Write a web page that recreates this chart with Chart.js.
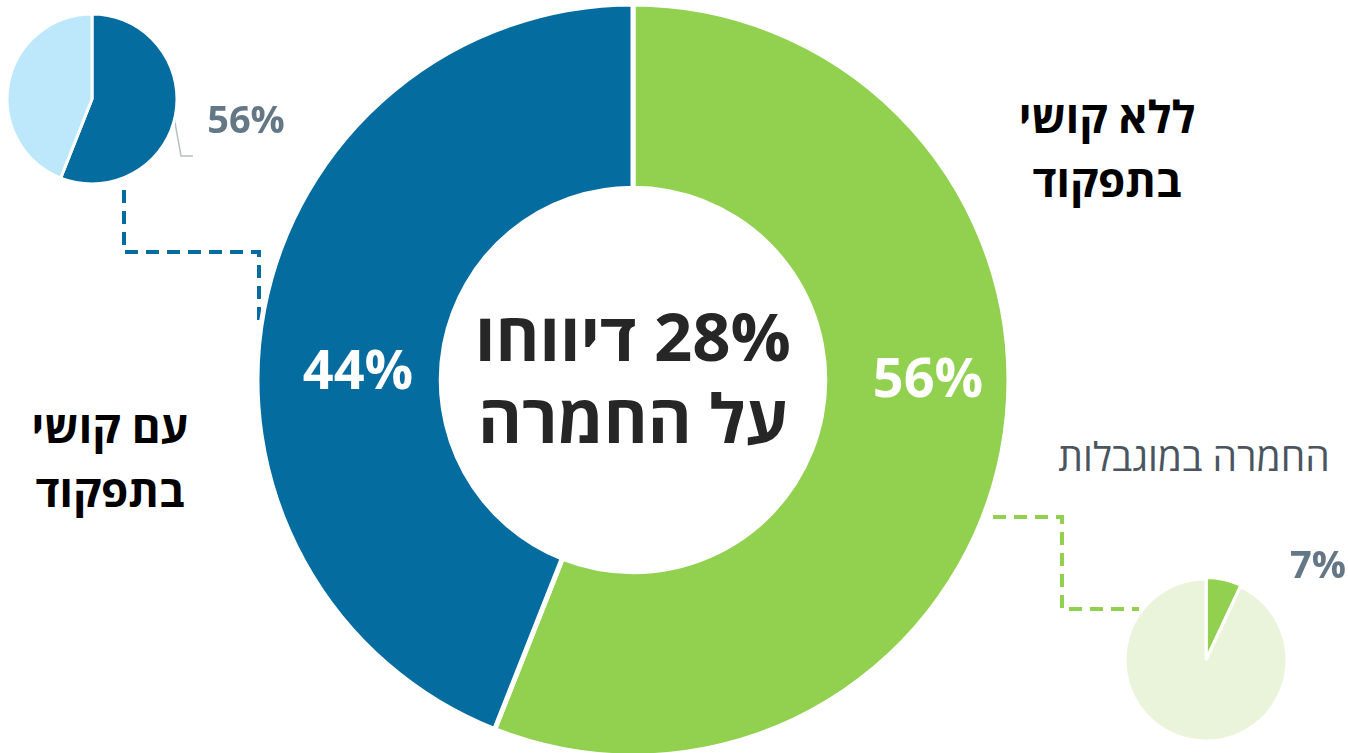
<!DOCTYPE html>
<html lang="he">
<head>
<meta charset="UTF-8">
<title>דיווחו על החמרה</title>
<script src="https://cdn.jsdelivr.net/npm/chart.js@4/dist/chart.umd.min.js"></script>
<style>
  html, body { margin: 0; padding: 0; background: #fff; overflow: hidden; }
  body { width: 1348px; height: 753px; position: relative; font-family: "Open Sans", "Liberation Sans", sans-serif; }
  canvas { position: absolute; }
  .txt { position: absolute; transform: translate(-50%, -50%); text-align: center; white-space: nowrap; direction: rtl; }
  .lbl { font-weight: 700; font-size: 44px; line-height: 64px; color: #000; }
  .big { font-weight: 700; font-size: 54px; color: #fff; }
  .center { font-weight: 700; font-size: 67px; line-height: 82px; color: #262626; }
  .grey { font-weight: 700; font-size: 38px; color: #637786; direction: ltr; }
  .sub { font-weight: 400; font-size: 39px; color: #4a5560; }
  svg { position: absolute; left: 0; top: 0; }
</style>
</head>
<body>

<svg width="1348" height="753">
  <polyline points="124,190 124,252 259,252 259,322" fill="none" stroke="#046c9e" stroke-width="4" stroke-dasharray="13,8"/>
  <polyline points="993,517 1062,517 1062,609 1139,609" fill="none" stroke="#92d050" stroke-width="4" stroke-dasharray="13,8"/>
  <polyline points="174,117 181,156 193,156" fill="none" stroke="#b8c0c6" stroke-width="1.5"/>
</svg>

<canvas id="mainChart" width="760" height="760" style="left:253px; top:0px;"></canvas>
<canvas id="leftChart" width="180" height="180" style="left:2px; top:9px;"></canvas>
<canvas id="rightChart" width="180" height="180" style="left:1116px; top:570px;"></canvas>

<div class="txt center" style="left:633px; top:376px;">28% דיווחו<br>על החמרה</div>
<div class="txt big" style="left:928px; top:376px;">56%</div>
<div class="txt big" style="left:358px; top:368px;">44%</div>
<div class="txt lbl" style="left:1107px; top:148px;">ללא קושי<br>בתפקוד</div>
<div class="txt lbl" style="left:110px; top:458px;">עם קושי<br>בתפקוד</div>
<div class="txt grey" style="left:246px; top:118px;">56%</div>
<div class="txt grey" style="left:1318px; top:563px;">7%</div>
<div class="txt sub" style="left:1194px; top:455px;">החמרה במוגבלות</div>

<script>
// נתונים
const mainLabels = ['ללא קושי בתפקוד', 'עם קושי בתפקוד'];
const mainValues = [56, 44];
const leftLabels = ['דיווחו על החמרה', 'לא דיווחו'];
const leftValues = [56, 44];
const rightLabels = ['החמרה במוגבלות', 'אחר'];
const rightValues = [7, 93];

const noExtras = {
    responsive: false,
    animation: false,
    events: [],
    layout: { padding: 0 },
    plugins: { legend: { display: false }, tooltip: { enabled: false } }
};

new Chart(document.getElementById('mainChart'), {
    type: 'doughnut',
    data: {
        labels: mainLabels,
        datasets: [{
            data: mainValues,
            backgroundColor: ['#92d050', '#046c9e'],
            borderColor: '#fff',
            borderWidth: 5
        }]
    },
    options: { ...noExtras, radius: 376, cutout: '51%' }
});

new Chart(document.getElementById('leftChart'), {
    type: 'pie',
    data: {
        labels: leftLabels,
        datasets: [{
            data: leftValues,
            backgroundColor: ['#046c9e', '#bde8fc'],
            borderColor: '#fff',
            borderWidth: 3
        }]
    },
    options: { ...noExtras, radius: 85 }
});

new Chart(document.getElementById('rightChart'), {
    type: 'pie',
    data: {
        labels: rightLabels,
        datasets: [{
            data: rightValues,
            backgroundColor: ['#92d050', '#eaf4db'],
            borderColor: '#fff',
            borderWidth: 3,
            offset: [4, 0]
        }]
    },
    options: { ...noExtras, radius: 81 }
});
</script>
</body>
</html>
